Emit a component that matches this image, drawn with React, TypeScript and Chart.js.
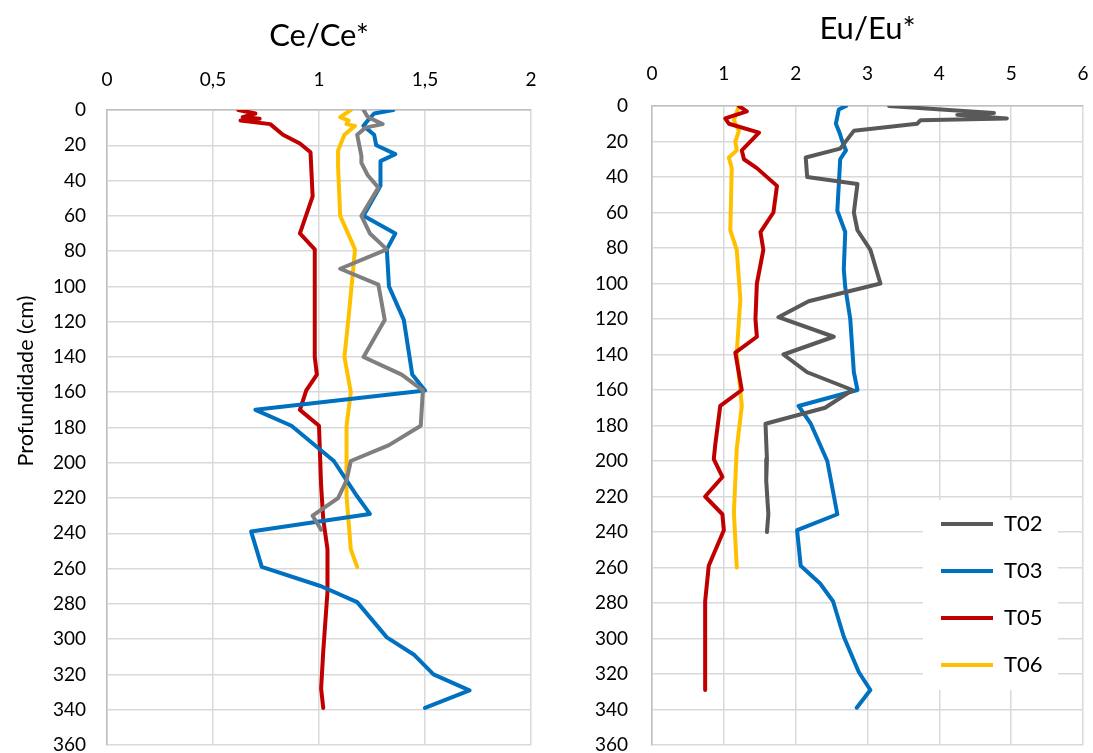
import React, { useEffect, useRef } from "react";
import { Chart, registerables } from "chart.js";

Chart.register(...registerables);

const FONT_FAMILY = "Lato, 'Open Sans', sans-serif";

// ---------- series / ticks ----------
const seriesNames = ["T02", "T03", "T05", "T06"];
const ceColors = ["#7F7F7F", "#0070C0", "#C00000", "#FFC000"];
const euColors = ["#595959", "#0070C0", "#C00000", "#FFC000"];

const depthTicks = [0, 20, 40, 60, 80, 100, 120, 140, 160, 180, 200, 220, 240, 260, 280, 300, 320, 340, 360];
const depthTickLabels = ["0", "20", "40", "60", "80", "100", "120", "140", "160", "180", "200", "220", "240", "260", "280", "300", "320", "340", "360"];

const ceTicks = [0, 0.5, 1, 1.5, 2];
const ceTickLabels = ["0", "0,5", "1", "1,5", "2"];

const euTicks = [0, 1, 2, 3, 4, 5, 6];
const euTickLabels = ["0", "1", "2", "3", "4", "5", "6"];

// ---------- Ce/Ce* ----------
const ceDepthT02 = [0, 4, 8, 10, 14, 26, 30, 37, 44, 60, 70, 79, 90, 99, 119, 140, 150, 159, 179, 190, 199, 210, 220, 230, 238];
const ceT02 = [1.21, 1.23, 1.3, 1.22, 1.18, 1.2, 1.2, 1.23, 1.28, 1.2, 1.24, 1.32, 1.1, 1.28, 1.31, 1.21, 1.39, 1.49, 1.48, 1.33, 1.15, 1.13, 1.09, 0.97, 1.01];

const ceDepthT03 = [0, 2, 6, 9, 14, 20, 25, 29, 43, 60, 70, 79, 100, 119, 150, 159, 170, 179, 199, 219, 229, 239, 259, 270, 279, 299, 309, 320, 329, 339];
const ceT03 = [1.35, 1.26, 1.23, 1.21, 1.26, 1.27, 1.36, 1.29, 1.29, 1.21, 1.36, 1.32, 1.33, 1.4, 1.44, 1.5, 0.7, 0.87, 1.07, 1.18, 1.24, 0.68, 0.73, 1.01, 1.18, 1.32, 1.45, 1.54, 1.71, 1.5];

const ceDepthT05 = [0, 2, 4, 5, 6, 8, 14, 19, 24, 49, 70, 79, 100, 120, 140, 150, 159, 170, 179, 213, 232, 249, 273, 307, 328, 339];
const ceT05 = [0.62, 0.7, 0.64, 0.72, 0.63, 0.77, 0.83, 0.91, 0.96, 0.97, 0.91, 0.98, 0.98, 0.98, 0.98, 0.99, 0.94, 0.91, 1.0, 1.01, 1.02, 1.04, 1.04, 1.02, 1.01, 1.02];

const ceDepthT06 = [0, 4, 6, 8, 9, 14, 23, 32, 60, 79, 117, 140, 160, 179, 200, 219, 249, 259];
const ceT06 = [1.15, 1.1, 1.14, 1.13, 1.17, 1.12, 1.09, 1.09, 1.1, 1.17, 1.14, 1.12, 1.15, 1.13, 1.13, 1.13, 1.15, 1.18];

// ---------- Eu/Eu* ----------
const euDepthT02 = [0, 4, 5, 7, 8, 10, 14, 24, 29, 40, 44, 60, 70, 81, 100, 110, 119, 130, 140, 150, 160, 170, 179, 199, 211, 230, 240];
const euT02 = [3.3, 4.76, 4.25, 4.94, 3.74, 3.69, 2.81, 2.62, 2.14, 2.16, 2.86, 2.81, 2.86, 3.04, 3.18, 2.18, 1.76, 2.53, 1.83, 2.16, 2.79, 2.41, 1.58, 1.6, 1.59, 1.62, 1.6];

const euDepthT03 = [0, 2, 10, 15, 20, 25, 30, 59, 71, 92, 102, 120, 150, 160, 169, 179, 200, 230, 239, 259, 269, 279, 299, 319, 329, 339];
const euT03 = [2.7, 2.6, 2.56, 2.61, 2.65, 2.7, 2.62, 2.58, 2.69, 2.67, 2.69, 2.76, 2.81, 2.86, 2.04, 2.21, 2.44, 2.58, 2.02, 2.07, 2.34, 2.52, 2.67, 2.88, 3.04, 2.85];

const euDepthT05 = [0, 3, 7, 10, 15, 25, 30, 35, 45, 60, 71, 81, 100, 120, 130, 139, 160, 169, 191, 199, 209, 220, 230, 239, 259, 279, 298, 329];
const euT05 = [1.21, 1.32, 1.02, 1.07, 1.49, 1.25, 1.28, 1.46, 1.74, 1.69, 1.51, 1.55, 1.46, 1.44, 1.46, 1.16, 1.25, 0.95, 0.88, 0.86, 0.98, 0.74, 0.98, 1.0, 0.79, 0.74, 0.74, 0.74];

const euDepthT06 = [0, 8, 14, 20, 25, 29, 35, 70, 81, 109, 139, 169, 193, 229, 260];
const euT06 = [1.21, 1.14, 1.21, 1.16, 1.18, 1.07, 1.11, 1.09, 1.18, 1.23, 1.18, 1.25, 1.18, 1.14, 1.18];

const ceSeries = [
  [ceDepthT02, ceT02],
  [ceDepthT03, ceT03],
  [ceDepthT05, ceT05],
  [ceDepthT06, ceT06],
];
const euSeries = [
  [euDepthT02, euT02],
  [euDepthT03, euT03],
  [euDepthT05, euT05],
  [euDepthT06, euT06],
];

function toPoints(depths: number[], values: number[]) {
  return depths.map((d, i) => ({ x: values[i], y: d }));
}

function makeDatasets(series: number[][][], colors: string[]) {
  return series.map(([d, v], i) => ({
    label: seriesNames[i],
    data: toPoints(d, v),
    borderColor: colors[i],
    backgroundColor: colors[i],
    borderWidth: 4,
    borderCapStyle: "round" as const,
    borderJoinStyle: "round" as const,
    showLine: true,
    pointRadius: 0,
    pointHoverRadius: 0,
    tension: 0,
  }));
}

const yTitlePlugin = {
  id: "yTitle",
  afterDraw(chart: any, _args: any, opts: any) {
    if (!opts || !opts.text) return;
    const ctx = chart.ctx;
    ctx.save();
    ctx.translate(opts.x, opts.y);
    ctx.rotate(-Math.PI / 2);
    ctx.font = `${opts.size}px ${FONT_FAMILY}`;
    ctx.fillStyle = "#000";
    ctx.textAlign = "center";
    ctx.textBaseline = "middle";
    ctx.fillText(opts.text, 0, 0);
    ctx.restore();
  },
};

const legendBoxPlugin = {
  id: "legendBox",
  beforeDraw(chart: any, _args: any, opts: any) {
    const lg = chart.legend;
    if (!lg || !opts || !opts.enabled) return;
    const w = lg.width;
    const h = lg.height;
    lg.left = opts.left;
    lg.top = opts.top;
    lg.right = opts.left + w;
    lg.bottom = opts.top + h;
  },
  beforeDatasetsDraw(chart: any, _args: any, opts: any) {
    const lg = chart.legend;
    if (!lg || !opts || !opts.enabled) return;
    const ctx = chart.ctx;
    ctx.save();
    ctx.fillStyle = "#FFFFFF";
    ctx.fillRect(opts.boxX, opts.boxY, opts.boxW, opts.boxH);
    ctx.restore();
    lg.draw();
  },
};

interface PanelCfg {
  series: number[][][];
  colors: string[];
  xMax: number;
  xTicks: number[];
  xLabels: string[];
  title: string;
  titlePadTop: number;
  xTickPad: number;
  xAxisHeight: number;
  yAxisWidth: number;
  yTickPad: number;
  padRight: number;
  padBottom: number;
  yTitle?: { text: string; x: number; y: number; size: number };
  legend?: any;
}

function buildConfig(p: PanelCfg): any {
  const tickFont = { family: FONT_FAMILY, size: 19 };
  return {
    type: "scatter",
    data: { datasets: makeDatasets(p.series, p.colors) },
    plugins: [yTitlePlugin, legendBoxPlugin],
    options: {
      animation: false,
      responsive: false,
      maintainAspectRatio: false,
      events: [],
      layout: { padding: { left: 0, top: 0, right: p.padRight, bottom: p.padBottom } },
      plugins: {
        tooltip: { enabled: false },
        legend: p.legend
          ? {
              display: true,
              position: "chartArea",
              align: "start",
              labels: {
                usePointStyle: true,
                pointStyle: "line",
                pointStyleWidth: 52,
                padding: 25,
                color: "#000",
                font: { family: FONT_FAMILY, size: 22 },
              },
            }
          : { display: false },
        yTitle: p.yTitle || {},
        legendBox: p.legend ? { enabled: true, ...p.legend } : { enabled: false },
      },
      scales: {
        x: {
          type: "linear",
          position: "top",
          min: 0,
          max: p.xMax,
          afterBuildTicks: (s: any) => {
            s.ticks = p.xTicks.map((v) => ({ value: v }));
          },
          afterFit: (s: any) => {
            s.height = p.xAxisHeight;
            s.paddingLeft = 0;
            s.paddingRight = 0;
          },
          ticks: {
            autoSkip: false,
            maxRotation: 0,
            padding: p.xTickPad,
            color: "#000",
            font: tickFont,
            callback: (v: number) => {
              const i = p.xTicks.findIndex((t) => Math.abs(t - v) < 1e-9);
              return i >= 0 ? p.xLabels[i] : "";
            },
          },
          grid: { color: "#D9D9D9", lineWidth: 1.5, drawTicks: false },
          border: { color: "#BFBFBF", width: 1.5 },
          title: {
            display: true,
            text: p.title,
            color: "#000",
            font: { family: FONT_FAMILY, size: 31 },
            padding: { top: p.titlePadTop, bottom: 0 },
          },
        },
        y: {
          type: "linear",
          reverse: true,
          min: 0,
          max: 360,
          afterBuildTicks: (s: any) => {
            s.ticks = depthTicks.map((v) => ({ value: v }));
          },
          afterFit: (s: any) => {
            s.width = p.yAxisWidth;
            s.paddingTop = 0;
            s.paddingBottom = 0;
          },
          ticks: {
            autoSkip: false,
            padding: p.yTickPad,
            color: "#000",
            font: tickFont,
            callback: (v: number) => {
              const i = depthTicks.indexOf(v);
              return i >= 0 ? depthTickLabels[i] : "";
            },
          },
          grid: { color: "#D9D9D9", lineWidth: 1.5, drawTicks: false },
          border: { color: "#BFBFBF", width: 1.5 },
        },
      },
    },
  };
}

export default function App() {
  const leftRef = useRef<HTMLCanvasElement | null>(null);
  const rightRef = useRef<HTMLCanvasElement | null>(null);

  useEffect(() => {
    const left = new Chart(
      leftRef.current as HTMLCanvasElement,
      buildConfig({
        series: ceSeries,
        colors: ceColors,
        xMax: 2,
        xTicks: ceTicks,
        xLabels: ceTickLabels,
        title: "Ce/Ce*",
        titlePadTop: 17,
        xTickPad: 19,
        xAxisHeight: 110,
        yAxisWidth: 107,
        yTickPad: 21,
        padRight: 29,
        padBottom: 8,
        yTitle: { text: "Profundidade (cm)", x: 26, y: 381, size: 21.5 },
      })
    );
    const right = new Chart(
      rightRef.current as HTMLCanvasElement,
      buildConfig({
        series: euSeries,
        colors: euColors,
        xMax: 6,
        xTicks: euTicks,
        xLabels: euTickLabels,
        title: "Eu/Eu*",
        titlePadTop: 10,
        xTickPad: 21,
        xAxisHeight: 106,
        yAxisWidth: 92,
        yTickPad: 24,
        padRight: 10,
        padBottom: 8,
        legend: { left: 356, top: 488, boxX: 363, boxY: 500, boxW: 135, boxH: 190 },
      })
    );
    return () => {
      left.destroy();
      right.destroy();
    };
  }, []);

  return (
    <div style={{ position: "fixed", left: 0, top: 0, width: 1093, height: 753, background: "#fff" }}>
      <canvas ref={leftRef} width={560} height={753} style={{ position: "absolute", left: 0, top: 0, width: 560, height: 753 }} />
      <canvas ref={rightRef} width={533} height={753} style={{ position: "absolute", left: 560, top: 0, width: 533, height: 753 }} />
    </div>
  );
}
